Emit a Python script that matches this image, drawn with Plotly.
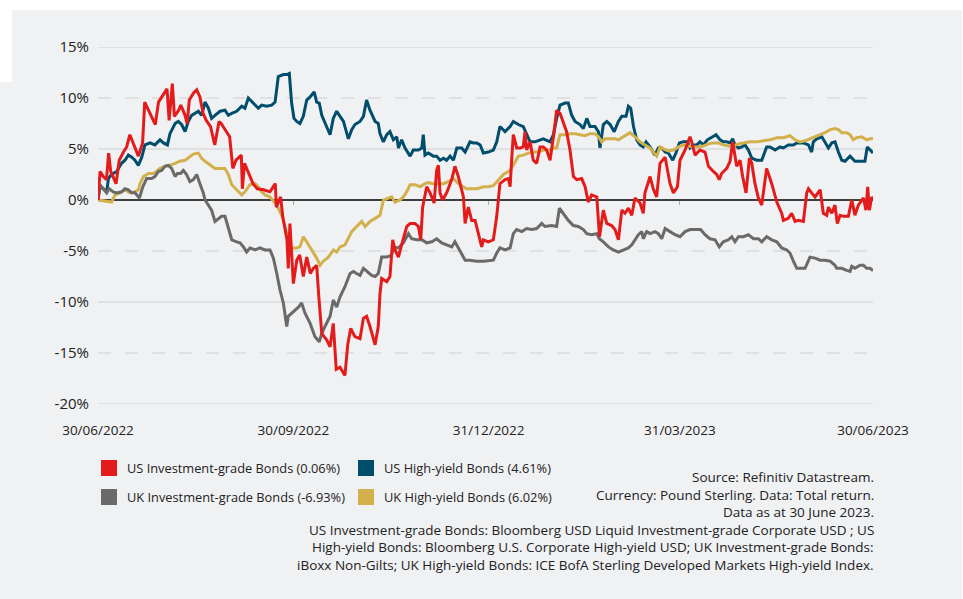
import pandas as pd
import plotly.graph_objects as go

START = pd.Timestamp("2022-06-30")

# ---------------- data (day offsets from 30/06/2022, total return %) ----------------
us_ig_days = [0, 1, 2.5, 4, 5, 6, 8.5, 10, 12, 13.5,
              15, 17, 19, 21, 22, 24.5, 27, 28.5, 31, 32.5,
              33.5, 35, 36, 38, 39, 41, 42, 43, 45, 46.5,
              48, 49.5, 51, 53, 55, 57, 58, 60.5, 62, 63.5,
              65, 67.5, 68, 69, 71, 73, 75, 78, 81, 83.5,
              84, 86, 87, 89, 89.6, 90.4, 92, 93.6, 95, 96.7,
              98.3, 100, 101.4, 103, 104, 105.4, 107.7, 109.3, 110.8, 112.2,
              114, 116.3, 117.6, 119, 121, 123.4, 125, 126.5, 128.1, 130.5,
              132, 132.8, 133.6, 136, 137.5, 138.8, 139.9, 141.5, 143, 145.4,
              147, 149.3, 150.9, 152, 152.9, 154.8, 156.4, 158.3, 159.5, 160.3,
              161.1, 162.3, 164.2, 166.6, 168.1, 169.7, 172.1, 172.9, 174.4, 176,
              177.6, 179.1, 180.7, 181.5, 183.8, 186.2, 187.8, 189.3, 191.7, 193.3,
              194.1, 194.8, 195.6, 197.2, 198.8, 200.3, 201.1, 201.9, 203.5, 205,
              206.6, 208.2, 209.7, 211.3, 212.9, 214.5, 216, 217.6, 219.2, 220.7,
              222.3, 223.9, 225.5, 227.8, 229.4, 230.9, 232.5, 234.9, 236.2, 238,
              239.6, 241.9, 243.5, 245.1, 246.7, 248.2, 249.8, 251.4, 252.9, 255.3,
              256.8, 257.6, 260, 261.5, 263.1, 264.7, 267.1, 269.4, 271, 272.9,
              274.1, 276.5, 278.8, 279.6, 281.2, 283.5, 285.9, 287.5, 289.8, 291.4,
              292.6, 293.7, 296.1, 297.7, 298.9, 300.8, 302.4, 303.6, 305.2, 306.8,
              307.9, 309.4, 311, 312.6, 314.9, 317.3, 319.7, 322, 322.8, 325.1,
              326.7, 328.3, 329.8, 332.2, 333.8, 334.6, 336.1, 337.7, 340.1, 341.6,
              343.2, 344, 345.6, 347.1, 348.2, 349.5, 351, 353.4, 355, 356.5,
              358.1, 360.5, 361.7, 362.5, 363.3, 364.4, 365]
us_ig_vals = [0, 2.8, 2.3, 2.0, 4.6, 2.8, 1.6, 3.9, 4.7, 5.2,
              6.4, 5.4, 4.3, 5.6, 9.6, 8.5, 7.4, 9.6, 10.5, 10.9,
              7.8, 11.4, 8.2, 8.8, 9.3, 8.3, 7.5, 9.8, 10.5, 10.8,
              10.1, 8.5, 7.8, 7.2, 5.4, 7.7, 7.5, 6.7, 6.2, 3.1,
              3.9, 4.4, 1.1, 3.6, 2.6, 1.6, 1.1, 1.0, 0.8, 1.6,
              -0.7, 0.3, -1.6, -3.9, -6.7, -2.3, -8.2, -5.9, -5.4, -7.5,
              -5.6, -7.2, -6.7, -6.4, -9.5, -13.1, -13.7, -14.4, -12.1, -16.6,
              -16.4, -17.2, -14.2, -12.6, -13.4, -13.6, -11.6, -11.4, -12.4, -14.2,
              -12.4, -9.2, -7.7, -8.0, -7.5, -3.9, -4.9, -5.6, -4.4, -2.6,
              -2.3, -2.3, -2.6, -3.9, -0.7, 1.3, 0.7, -0.3, 2.9, 3.4,
              0.7, 0, 0.7, 2.0, 3.3, 2.3, 0.3, -2.3, -0.7, -2.0,
              -2.0, -3.4, -4.6, -3.9, -4.1, -3.9, -1.6, 1.6, 2.0, 2.1,
              1.3, 3.9, 6.4, 5.1, 5.1, 5.2, 6.7, 4.9, 5.7, 3.9,
              3.6, 5.2, 5.2, 4.9, 3.9, 6.2, 8.8, 8.5, 7.5, 6.7,
              4.9, 2.3, 2.0, 2.1, 1.3, -0.2, 0.5, 0.3, -3.6, -1.0,
              -2.3, -2.5, -2.9, -3.9, -1.0, -1.3, -0.8, -1.5, 0.2, -0.3,
              -1.3, 0.7, 2.3, 1.1, 0.3, 3.6, 4.2, 1.6, 0.7, 1.3,
              3.9, 4.9, 6.2, 5.7, 4.4, 4.9, 4.7, 3.3, 2.8, 2.5,
              2.0, 2.6, 3.1, 3.8, 5.7, 3.3, 3.9, 2.3, 0.7, 4.1,
              3.6, 1.6, 0.2, -0.5, 3.1, 1.6, -0.2, -1.3, -2.0, -1.8,
              -1.3, -2.1, -2.0, -2.1, 0.7, 1.1, 0.7, 0.3, 1.0, -1.3,
              -1.5, -0.7, -1.3, -0.5, -2.3, -1.5, -1.6, -1.6, 0, -1.5,
              -0.5, 0.2, -1.0, 1.3, -1.0, 0.3, 0.06]

us_hy_days = [0, 0.9, 2.5, 4.1, 4.9, 6.4, 8.8, 11.1, 12.7, 14.3,
              15.9, 17.4, 19, 20.6, 22.1, 24.5, 26.8, 29.2, 30.8, 32.7,
              33.9, 36.3, 37.8, 39.4, 41, 42.5, 44.1, 45.7, 47.3, 48.8,
              50.4, 52, 53.5, 55.1, 57.5, 59.8, 61.4, 63, 65.3, 67.7,
              69.2, 70.8, 73.2, 75.5, 77.1, 79.4, 81.8, 83.4, 84.9, 87.3,
              88.9, 90.1, 91.2, 92.3, 93.6, 95.1, 96.7, 98.3, 99.9, 101.8,
              103, 104.2, 105.4, 107.7, 109.3, 110.8, 112.4, 114, 115.6, 117.9,
              119.5, 121, 123.4, 125, 126.5, 128.1, 130.5, 132, 132.8, 134.4,
              136, 137.5, 139.1, 140.7, 141.5, 143, 144.6, 147, 148.5, 150.9,
              152.5, 153.2, 154, 155.6, 157.9, 159.5, 161.1, 162.7, 164.2, 165.8,
              167.4, 169, 171.3, 172.9, 175.2, 176.8, 178.4, 180, 181.5, 183.8,
              186.2, 187.8, 189.3, 191.7, 194.1, 195.6, 198, 200.3, 201.9, 203.5,
              205.8, 208.2, 209.7, 212.9, 214.5, 216, 217.6, 220, 221.5, 223.1,
              224.7, 227, 228.6, 230.2, 231.7, 234.1, 235.7, 236.4, 238, 239.6,
              241.2, 243.1, 245.1, 246.7, 248.7, 249.8, 250.9, 252.2, 253.7, 255.3,
              256.8, 258.1, 260, 262.3, 263.9, 265.5, 267.1, 268.6, 270.7, 272.2,
              273.8, 275.7, 277.6, 278.8, 280.4, 282, 283.5, 285.1, 287, 289.5,
              291.1, 293, 294.5, 296.1, 297.7, 298.9, 300, 301.6, 303.2, 304.7,
              306.3, 307.9, 310.2, 312.6, 314.9, 316.5, 318.9, 321.2, 322.8, 325.1,
              327.5, 329.1, 332.2, 334.6, 336.1, 336.9, 338.5, 340.9, 342.4, 344,
              345.6, 347.1, 348.7, 350.3, 351.8, 354.2, 356.5, 358.9, 361.2, 362.3,
              363.9, 365]
us_hy_vals = [0, 1.3, 1.1, 0.8, 2.1, 2.5, 2.8, 3.6, 3.9, 4.4,
              4.2, 3.9, 3.4, 4.2, 5.4, 5.6, 5.4, 5.9, 5.6, 5.4,
              6.5, 7.5, 7.7, 7.4, 6.7, 7.7, 8.3, 8.5, 8.7, 8.3,
              9.6, 9.0, 8.0, 8.3, 8.7, 8.8, 8.3, 8.5, 8.7, 9.2,
              9.0, 10.0, 9.5, 9.0, 9.3, 9.2, 9.3, 9.6, 12.1, 12.3,
              12.3, 12.4, 9.5, 8.0, 7.7, 7.5, 8.2, 9.8, 10.1, 10.6,
              9.6, 9.5, 8.3, 7.2, 6.4, 8.0, 8.7, 8.2, 7.7, 6.0,
              6.9, 7.4, 7.7, 8.2, 9.8, 8.8, 7.7, 7.5, 6.5, 5.7,
              6.4, 6.7, 5.9, 6.2, 5.1, 5.9, 5.1, 4.3, 4.9, 4.9,
              5.1, 6.4, 4.4, 4.6, 4.3, 4.3, 3.9, 4.1, 3.9, 4.3,
              3.9, 5.1, 5.1, 4.7, 5.7, 5.6, 5.6, 5.4, 4.6, 4.7,
              4.9, 5.7, 7.2, 6.7, 7.2, 7.7, 7.4, 7.2, 6.5, 5.7,
              5.7, 5.9, 6.0, 5.7, 6.4, 8.0, 9.3, 9.5, 9.5, 8.3,
              7.7, 7.4, 7.0, 8.0, 7.2, 7.2, 6.7, 5.1, 7.4, 7.7,
              7.4, 6.7, 7.7, 8.2, 8.2, 9.2, 9.0, 7.2, 5.9, 5.4,
              5.2, 5.7, 5.2, 4.4, 5.1, 5.1, 4.7, 4.6, 3.9, 4.6,
              5.6, 5.7, 5.7, 5.1, 5.4, 5.4, 5.7, 5.4, 5.9, 6.2,
              6.4, 5.9, 5.7, 5.7, 5.6, 6.0, 5.4, 5.1, 5.2, 5.4,
              4.9, 4.1, 3.9, 3.9, 5.2, 5.2, 4.9, 5.2, 5.1, 5.4,
              5.4, 5.6, 5.6, 5.4, 4.7, 5.7, 6.0, 6.2, 5.6, 5.1,
              5.6, 5.7, 4.7, 3.9, 3.8, 4.3, 3.8, 3.8, 3.8, 5.2,
              4.9, 4.61]

uk_ig_days = [0, 0.9, 2.5, 4.1, 5.3, 7.2, 8.8, 11.1, 12.7, 14.3,
              15.9, 17.4, 19.5, 21.1, 22.9, 25.3, 26.8, 28.4, 30, 31.5,
              33.1, 34.7, 36.3, 37.4, 38.9, 40.2, 41.7, 43.3, 44.9, 46.5,
              48, 49.6, 50.4, 52, 53.5, 55.1, 56.7, 58.2, 59.8, 61.4,
              63, 65.3, 66.9, 68.5, 70, 71.6, 74, 76.3, 78.7, 81,
              82.6, 84.2, 85.7, 87.3, 88.9, 89.6, 91.2, 92.8, 94.4, 95.9,
              97.5, 99.9, 102.2, 104.2, 105.4, 106.9, 109.3, 110.8, 112.4, 114,
              116.3, 118.7, 120.3, 121.8, 123.4, 125, 126.5, 128.9, 130.5, 132,
              133.6, 136, 138.3, 139.1, 141.5, 143.8, 146.2, 147.7, 150.1, 152.5,
              154.8, 157.2, 159.5, 161.9, 164.2, 166.6, 168.1, 169.7, 171.3, 172.9,
              175.2, 178.4, 181.5, 184.6, 186.2, 187.8, 189.3, 191.7, 194.1, 195.6,
              197.2, 199.6, 201.9, 204.3, 206.6, 209, 210.5, 213.7, 216, 217.3,
              219.2, 221.5, 223.9, 226.2, 228.6, 230.2, 232.5, 234.9, 236.1, 238,
              240.4, 242.7, 245.1, 247.5, 249.8, 251.4, 252.9, 254.5, 256.1, 256.8,
              258.4, 260, 262.3, 263.9, 265.5, 267.1, 269.4, 271.8, 274.1, 276.5,
              278.8, 282, 283.8, 285.9, 288.2, 290.6, 292.6, 294.5, 296.9, 298.5,
              300, 301.6, 304, 306.3, 308.7, 311, 312.6, 314.9, 317.3, 319.7,
              322, 324.4, 325.9, 327.5, 329.1, 331.4, 333, 335.3, 337.7, 340.1,
              342.4, 344.8, 347.1, 347.9, 350.3, 352.6, 354.2, 355, 356.5, 358.9,
              360.5, 362, 363.6, 365]
uk_ig_vals = [0, 1.5, 1.1, 0.7, 1.1, 0.8, 0.7, 0.8, 1.1, 1.0,
              0.7, 0.7, 0.2, 1.3, 2.1, 2.1, 2.3, 2.8, 2.9, 3.3,
              3.4, 3.1, 2.3, 2.6, 2.6, 2.9, 2.5, 1.8, 2.0, 2.5,
              1.6, 0.7, 0, -0.5, -1.0, -2.1, -1.8, -1.6, -1.6, -2.8,
              -3.9, -4.1, -4.2, -4.6, -5.1, -4.7, -4.9, -4.7, -4.9, -4.9,
              -5.7, -7.2, -8.8, -10.1, -12.4, -11.4, -11.1, -10.8, -10.5, -10.1,
              -11.1, -12.1, -13.4, -13.9, -13.1, -12.4, -11.4, -9.8, -10.5, -9.5,
              -8.5, -7.2, -7.0, -7.2, -7.4, -6.7, -7.0, -7.4, -7.5, -7.2,
              -5.6, -5.6, -5.4, -4.6, -4.7, -4.2, -3.3, -3.8, -3.9, -3.9,
              -4.2, -4.1, -3.8, -4.2, -4.4, -4.6, -4.1, -4.7, -5.2, -5.9,
              -5.9, -6.0, -6.0, -5.9, -5.9, -5.2, -4.7, -4.9, -4.7, -3.3,
              -2.9, -3.1, -2.8, -2.9, -2.8, -2.3, -2.6, -2.5, -2.6, -0.8,
              -1.3, -2.0, -2.5, -2.6, -2.9, -3.3, -3.4, -3.3, -3.8, -4.1,
              -4.6, -4.9, -5.1, -4.9, -4.7, -4.4, -3.9, -3.4, -3.1, -3.8,
              -3.1, -3.3, -3.1, -3.3, -3.8, -2.8, -3.1, -3.4, -3.6, -3.1,
              -2.9, -2.9, -2.9, -3.4, -3.8, -3.9, -4.6, -4.1, -3.9, -3.6,
              -4.1, -3.6, -3.6, -3.4, -3.8, -3.8, -4.1, -3.6, -3.9, -4.1,
              -4.7, -4.9, -5.2, -6.0, -6.7, -6.7, -6.7, -5.6, -5.7, -5.9,
              -5.9, -6.0, -6.4, -6.7, -6.7, -6.9, -7.0, -6.5, -6.7, -6.4,
              -6.4, -6.7, -6.7, -6.93]

uk_hy_days = [0, 2.5, 4.9, 6.4, 8, 10.4, 12.7, 15.1, 17.4, 19,
              19.8, 21.4, 23.7, 26.1, 27.6, 29.2, 31.5, 33.9, 36.3, 38.6,
              41, 43.3, 44.9, 47.3, 48.8, 50.4, 52.8, 55.1, 57.5, 59.8,
              61.4, 63, 65.3, 67.7, 69.2, 71.6, 74, 75.5, 77.1, 78.7,
              81, 83.4, 84.9, 86.5, 88.1, 89.6, 91.2, 93.6, 95.1, 96.7,
              98.3, 99.9, 101.4, 103, 104.6, 106.1, 108.5, 110.9, 112.4, 114,
              116.3, 117.9, 119.5, 121.8, 124.2, 125.8, 128.1, 130.5, 132.8, 134.4,
              136.7, 138.3, 139.9, 142.2, 143.8, 145.4, 147, 149.3, 151.7, 154,
              155.6, 157.9, 160.3, 162.7, 165, 167.4, 169.7, 172.1, 173.6, 176,
              178.4, 181.5, 183.8, 186.2, 188.6, 190.9, 194.1, 196.4, 198, 200.3,
              202.7, 205, 207.4, 209.7, 212.1, 214.5, 216, 217.6, 220, 222.3,
              224.7, 227, 229.4, 231.7, 234.1, 235.7, 237.2, 238.8, 241.2, 243.5,
              245.1, 247.5, 250.6, 252.9, 255.3, 257.6, 260, 261.5, 263.1, 264.7,
              266.3, 268.6, 271, 273.4, 275.7, 278.1, 280.4, 282.8, 285.1, 287.5,
              289.8, 292.2, 294.5, 296.9, 299.3, 301.6, 304, 307.1, 310.2, 313.4,
              316.5, 319.7, 322.8, 325.9, 328.3, 330.6, 333, 335.3, 337.7, 340.1,
              342.4, 344.8, 347.1, 348.7, 350.3, 352.6, 354.2, 355.7, 357.3, 359.7,
              362, 363.6, 365]
uk_hy_vals = [0, -0.1, -0.2, -0.2, 0.5, 0.7, 1.0, 0.7, 0.8, 1.0,
              1.6, 2.3, 2.6, 2.6, 2.8, 3.1, 3.3, 3.4, 3.6, 3.8,
              3.9, 4.3, 4.5, 4.6, 4.1, 3.8, 3.4, 3.1, 3.1, 3.1,
              2.5, 1.5, 1.0, 0.5, 0.8, 1.5, 1.6, 1.3, 0.8, 0.5,
              0.3, -0.3, -0.8, -1.5, -2.6, -3.9, -4.7, -4.7, -4.6, -3.6,
              -4.1, -4.6, -5.1, -5.7, -6.4, -6.0, -5.6, -4.9, -5.1, -4.6,
              -4.4, -3.8, -3.1, -2.6, -2.1, -2.6, -2.1, -1.8, -1.5, 0,
              0.2, 0.3, -0.2, 0, 0.3, 0.8, 1.5, 1.5, 1.3, 1.6,
              1.7, 1.6, 1.6, 1.6, 1.8, 2.1, 1.6, 1.3, 1.1, 1.1,
              1.1, 1.3, 1.3, 1.4, 2.0, 2.5, 2.9, 3.8, 4.3, 4.4,
              4.6, 4.7, 4.7, 4.9, 4.9, 5.1, 5.1, 6.4, 6.4, 6.5,
              6.5, 6.4, 6.3, 6.5, 6.5, 6.2, 5.7, 6.0, 6.0, 6.0,
              5.9, 6.2, 6.6, 6.2, 5.7, 5.4, 5.1, 4.7, 4.3, 5.2,
              5.0, 4.8, 4.9, 5.2, 5.4, 5.3, 5.2, 5.2, 5.3, 5.5,
              5.6, 5.6, 5.4, 5.3, 5.3, 5.5, 5.6, 5.7, 5.7, 5.8,
              5.9, 6.1, 6.1, 6.3, 5.9, 5.7, 5.8, 6.0, 6.2, 6.4,
              6.6, 6.9, 7.0, 6.9, 6.6, 6.6, 6.4, 5.9, 6.1, 6.2,
              5.9, 6.0, 6.02]

series_names = ["US Investment-grade Bonds (0.06%)", "US High-yield Bonds (4.61%)",
                "UK Investment-grade Bonds (-6.93%)", "UK High-yield Bonds (6.02%)"]

tick_dates = ["2022-06-30", "2022-09-30", "2022-12-31", "2023-03-31", "2023-06-30"]
tick_labels = ["30/06/2022", "30/09/2022", "31/12/2022", "31/03/2023", "30/06/2023"]
y_ticks = [15, 10, 5, 0, -5, -10, -15, -20]

source_lines = [
    "Source: Refinitiv Datastream.",
    "Currency: Pound Sterling. Data: Total return.",
    "Data as at 30 June 2023.",
    "US Investment-grade Bonds: Bloomberg USD Liquid Investment-grade Corporate USD ; US",
    "High-yield Bonds: Bloomberg U.S. Corporate High-yield USD; UK Investment-grade Bonds:",
    "iBoxx Non-Gilts; UK High-yield Bonds: ICE BofA Sterling Developed Markets High-yield Index.",
]

for d, v in [(us_ig_days, us_ig_vals), (us_hy_days, us_hy_vals),
             (uk_ig_days, uk_ig_vals), (uk_hy_days, uk_hy_vals)]:
    assert len(d) == len(v), (len(d), len(v))

# ---------------- styling ----------------
RED, BLUE, GREY, GOLD = "#E41B1B", "#004E6C", "#6A6A69", "#D2B04C"
BG = "#F0F1F3"
FONT = "Open Sans"
TXT = "#222222"


def to_dates(days):
    return START + pd.to_timedelta(days, unit="D")


fig = go.Figure()
for days, vals, col, name in [(us_hy_days, us_hy_vals, BLUE, series_names[1]),
                              (uk_hy_days, uk_hy_vals, GOLD, series_names[3]),
                              (uk_ig_days, uk_ig_vals, GREY, series_names[2]),
                              (us_ig_days, us_ig_vals, RED, series_names[0])]:
    fig.add_trace(go.Scatter(x=to_dates(days), y=vals, mode="lines", name=name,
                             line=dict(color=col, width=3), showlegend=False))

shapes = []
# gridlines (alternating solid / dashed)
solid_levels = {15, 5, -10, -20}
for v in y_ticks:
    if v == 0:
        continue
    shapes.append(dict(type="line", xref="paper", yref="y", x0=0, x1=1, y0=v, y1=v,
                       layer="below",
                       line=dict(color="#D9DADC", width=1.5,
                                 dash="solid" if v in solid_levels else "13px,14px")))
# zero line
shapes.append(dict(type="line", xref="paper", yref="y", x0=0, x1=1, y0=0, y1=0,
                   layer="below", line=dict(color="#000000", width=1.4)))


def px_to_paper_x(px):
    return (px - 98) / 775.0


def py_to_paper_y(py):
    return (404 - py) / 357.0


# white page areas outside the grey panel
for (x0, y0, x1, y1) in [(0, 0, 963, 10), (0, 0, 12, 82), (962, 0, 963, 599)]:
    shapes.append(dict(type="rect", xref="paper", yref="paper",
                       x0=px_to_paper_x(x0), x1=px_to_paper_x(x1),
                       y0=py_to_paper_y(y0), y1=py_to_paper_y(y1),
                       fillcolor="white", line=dict(width=0), layer="below"))

# legend squares + labels
annotations = []
legend_cols = [RED, BLUE, GREY, GOLD]
legend_pos = [(101, 460), (358, 460), (101, 489), (358, 489)]
for col, (lx, ly), txt in zip(legend_cols, legend_pos, series_names):
    shapes.append(dict(type="rect", xref="paper", yref="paper",
                       x0=px_to_paper_x(lx), x1=px_to_paper_x(lx + 16),
                       y0=py_to_paper_y(ly), y1=py_to_paper_y(ly + 16),
                       fillcolor=col, line=dict(width=0)))
    annotations.append(dict(xref="paper", yref="paper", x=px_to_paper_x(lx + 24),
                            y=py_to_paper_y(ly + 8), xanchor="left", yanchor="middle",
                            text=txt, showarrow=False,
                            font=dict(family=FONT, size=12.8, color=TXT)))

for i, line in enumerate(source_lines):
    annotations.append(dict(xref="paper", yref="paper", x=px_to_paper_x(876),
                            y=py_to_paper_y(477 + i * 17.5), xanchor="right",
                            yanchor="middle", text=line, showarrow=False,
                            font=dict(family=FONT, size=13.5, color=TXT)))

fig.update_layout(
    width=963, height=599, autosize=False,
    margin=dict(l=98, r=90, t=47, b=195),
    paper_bgcolor=BG, plot_bgcolor=BG,
    font=dict(family=FONT, color=TXT),
    shapes=shapes, annotations=annotations,
    xaxis=dict(type="date", range=[tick_dates[0], tick_dates[-1]],
               tickvals=tick_dates, ticktext=tick_labels,
               showgrid=False, zeroline=False, showline=False, ticks="",
               tickfont=dict(family=FONT, size=13.5, color=TXT),
               ticklabelstandoff=16),
    xaxis2=dict(type="date", overlaying="x", matches="x", anchor="free",
                position=20 / 35, side="bottom",
                tickvals=tick_dates[1:-1], showticklabels=False,
                ticks="outside", ticklen=4, tickwidth=1, tickcolor="#AAAAAA",
                showgrid=False, zeroline=False, showline=False),
    yaxis=dict(range=[-20, 15], tickvals=y_ticks,
               ticktext=[f"{v}%" for v in y_ticks],
               showgrid=False, zeroline=False, showline=False, ticks="",
               tickfont=dict(family=FONT, size=15, color=TXT),
               ticklabelstandoff=8),
    hovermode=False,
)
# invisible trace bound to xaxis2 so that its zero-line ticks are drawn
fig.add_trace(go.Scatter(x=[tick_dates[0]], y=[None], xaxis="x2", yaxis="y",
                         showlegend=False, hoverinfo="skip"))

fig.write_html("out.html", config={"displayModeBar": False},
               post_script="document.body.style.margin='0px';")
